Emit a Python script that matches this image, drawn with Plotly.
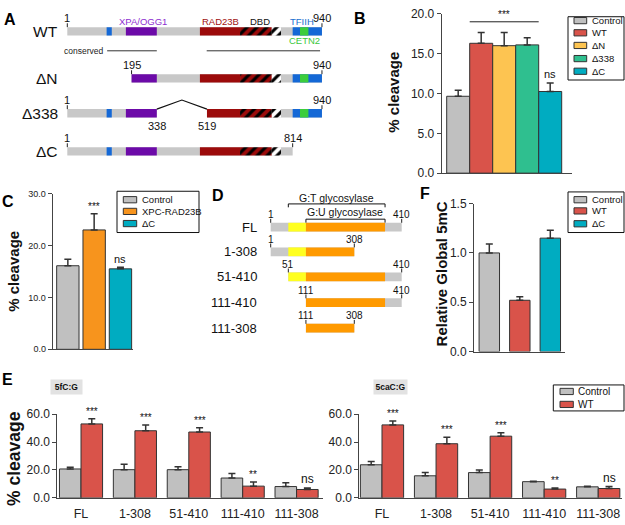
import plotly.graph_objects as go

W, H = 625, 525
FONT = "Arial, 'Liberation Sans', Helvetica, sans-serif"
INK = "#222222"
AXC = "#444444"
OUT = "#333333"

# ---------------- data ----------------
# Panel B
b_labels = ["Control", "WT", "ΔN", "Δ338", "ΔC"]
b_values = [9.65, 16.3, 16.0, 16.1, 10.25]
b_errors = [0.75, 1.35, 1.65, 0.9, 1.05]
b_sig_pair = ("WT", "Δ338")
b_sig_text = "***"
b_ns = "ΔC"

# Panel C
c_labels = ["Control", "XPC-RAD23B", "ΔC"]
c_values = [16.1, 23.0, 15.5]
c_errors = [1.25, 3.1, 0.3]
c_sig = ["", "***", "ns"]

# Panel F
f_labels = ["Control", "WT", "ΔC"]
f_values = [1.0, 0.52, 1.15]
f_errors = [0.09, 0.035, 0.08]

# Panel E
e_constructs = ["FL", "1-308", "51-410", "111-410", "111-308"]
e5fc_control = [20.7, 20.2, 20.2, 14.2, 8.1]
e5fc_control_err = [1.2, 3.8, 2.1, 3.2, 2.8]
e5fc_wt = [53.0, 48.1, 47.2, 8.4, 6.0]
e5fc_wt_err = [3.7, 4.2, 3.0, 3.0, 1.0]
e5cac_control = [23.7, 15.8, 18.1, 11.6, 7.9]
e5cac_control_err = [2.3, 2.3, 1.9, 0.3, 0.5]
e5cac_wt = [52.3, 38.8, 44.2, 6.3, 6.7]
e5cac_wt_err = [2.8, 4.7, 2.5, 0.7, 1.4]
e_sig = ["***", "***", "***", "**", "ns"]
e_titles = ["5fC:G", "5caC:G"]

# Panel A schematic (diagram units along XPC)
a_rows = ["WT", "ΔN", "Δ338", "ΔC"]
a_spans = [[(1, 940)], [(238, 940)], [(1, 331), (516, 940)], [(1, 832)]]
a_dom_start = [146, 217, 490, 638, 755, 832, 859]
a_dom_end = [165, 331, 638, 755, 789, 940, 890]
a_end_labels = [[(1, "1"), (940, "940")], [(238, "195"), (940, "940")],
                [(1, "1"), (940, "940")], [(1, "1"), (832, "814")]]
a_gap_labels = ["338", "519"]
a_conserved = [(148, 331), (515, 933)]
a_dom_text = ["XPA/OGG1", "RAD23B", "DBD", "TFIIH", "CETN2"]
a_dom_text_x = [281, 567, 710, 866, 874]

# Panel D schematic (diagram units along TDG)
d_rows = ["FL", "1-308", "51-410", "111-410", "111-308"]
d_spans = [(1, 410), (1, 262), (56, 410), (111, 410), (111, 262)]
d_dom_start = [56, 111]
d_dom_end = [111, 358]
d_end_labels = [("1", "410"), ("1", "308"), ("51", "410"), ("111", "410"), ("111", "308")]
d_brackets = [("G:T glycosylase", 56, 358), ("G:U glycosylase", 111, 358)]

# ---------------- styles / layout ----------------
GRAY = "#c0c0c0"
RED = "#d9534a"
B_COLORS = [GRAY, RED, "#fdc451", "#2fbf8f", "#00acc1"]
C_COLORS = [GRAY, "#f7941d", "#00acc1"]
F_COLORS = [GRAY, RED, "#00acc1"]

S_GRAY = "#c8c8c8"
S_BLUE = "#1468d6"
S_PURPLE = "#6c0aa8"
S_DRED = "#9c0b0b"
S_GREEN = "#3ccd3c"
A_DOM_STYLE = ["blue", "purple", "dred", "hatch_red", "hatch_white", "blue", "green"]
A_DOM_TEXT_COLOR = ["#8e2fd0", "#a01010", "#111111", "#1a6fd0", "#3cc83c"]
D_DOM_COLOR = ["#ffff20", "#ff9a00"]


def fx(px):
    return px / W


def fy(py):
    return 1 - py / H


def a_r(px):  # panel A diagram scale
    return 1 + (px - 67.3) / 0.2712


def d_r(px):  # panel D diagram scale
    return 1 + (px - 270.7) / 0.3203


fig = go.Figure()


def add_bars(xa, ya, labels, values, errors, colors, width, offset=None):
    fig.add_trace(go.Bar(
        x=labels, y=values, width=width, offset=offset,
        marker=dict(color=colors, line=dict(color=OUT, width=1)),
        error_y=dict(type="data", symmetric=False, array=errors,
                     arrayminus=[0] * len(errors), color=OUT, thickness=1.5, width=3.5),
        xaxis=xa, yaxis=ya, showlegend=False, hoverinfo="skip"))


add_bars("x", "y", b_labels, b_values, b_errors, B_COLORS, 1.0)
add_bars("x2", "y2", c_labels, c_values, c_errors, C_COLORS, 0.85)
add_bars("x3", "y3", f_labels, f_values, f_errors, F_COLORS, 0.67)
add_bars("x4", "y4", e_constructs, e5fc_control, e5fc_control_err, GRAY, 0.4, -0.4)
add_bars("x4", "y4", e_constructs, e5fc_wt, e5fc_wt_err, RED, 0.4, 0.0)
add_bars("x5", "y5", e_constructs, e5cac_control, e5cac_control_err, GRAY, 0.4, -0.4)
add_bars("x5", "y5", e_constructs, e5cac_wt, e5cac_wt_err, RED, 0.4, 0.0)


def hbar(xa, ya, ys, starts, ends, color, height, pattern=None):
    if not ys:
        return
    marker = dict(color=color, line=dict(width=0))
    if pattern:
        marker["pattern"] = pattern
    fig.add_trace(go.Bar(orientation="h", y=ys, base=starts,
                         x=[e - s for s, e in zip(starts, ends)], width=height,
                         marker=marker, xaxis=xa, yaxis=ya, showlegend=False,
                         hoverinfo="skip"))


# ---- Panel A schematic ----
A_ROW_Y = [25, 73.3, 109.2, 148.3]
A_BAR_H = 8.6
ys, st, en = [], [], []
for yv, spans in zip(A_ROW_Y, a_spans):
    for s, e in spans:
        ys.append(yv); st.append(s); en.append(e)
hbar("x6", "y6", ys, st, en, S_GRAY, A_BAR_H)

style_map = {
    "blue": (S_BLUE, None),
    "purple": (S_PURPLE, None),
    "dred": (S_DRED, None),
    "hatch_red": (S_DRED, dict(shape="/", fgcolor="#000000", bgcolor=S_DRED, size=7, solidity=0.45, fillmode="replace")),
    "hatch_white": ("#ffffff", dict(shape="/", fgcolor="#000000", bgcolor="#ffffff", size=7, solidity=0.45, fillmode="replace")),
    "green": (S_GREEN, None),
}
for ds, de, style in zip(a_dom_start, a_dom_end, A_DOM_STYLE):
    ys, st, en = [], [], []
    for yv, spans in zip(A_ROW_Y, a_spans):
        for s, e in spans:
            s2, e2 = max(s, ds), min(e, de)
            if e2 > s2:
                ys.append(yv); st.append(s2); en.append(e2)
    col, pat = style_map[style]
    hbar("x6", "y6", ys, st, en, col, A_BAR_H, pat)

annotations = []
shapes = []


def txt(x, y, text, size, color=INK, xref="paper", yref="paper", bold=False,
        xanchor="center", yanchor="middle", angle=0, **kw):
    if bold:
        text = "<b>" + text + "</b>"
    d = dict(x=x, y=y, xref=xref, yref=yref, text=text, showarrow=False,
             font=dict(size=size, color=color, family=FONT), xanchor=xanchor,
             yanchor=yanchor, textangle=angle)
    d.update(kw)
    annotations.append(d)


def line(x0, y0, x1, y1, xref, yref, color=INK, width=1):
    shapes.append(dict(type="line", x0=x0, y0=y0, x1=x1, y1=y1, xref=xref,
                       yref=yref, line=dict(color=color, width=width)))


for name, yv, labs in zip(a_rows, A_ROW_Y, a_end_labels):
    txt(a_r(60), yv, name, 15.5, "#111", "x6", "y6", xanchor="right")
    top = yv - A_BAR_H / 2
    for pos, lab in labs:
        line(pos, top - 4, pos, top, "x6", "y6", width=1)
        txt(pos, top - 9, lab, 11, "#111", "x6", "y6")

# gap in Δ338
gy = A_ROW_Y[2]
gtop = gy - A_BAR_H / 2
gs, ge = a_spans[2][0][1], a_spans[2][1][0]
fig.add_trace(go.Scatter(x=[gs, (gs + ge) / 2, ge], y=[gtop, gtop - 9.3, gtop],
                         mode="lines", line=dict(color="#111", width=1.2),
                         xaxis="x6", yaxis="y6", showlegend=False, hoverinfo="skip"))
txt(gs, gy + A_BAR_H / 2 + 8.5, a_gap_labels[0], 11, "#111", "x6", "y6")
txt(ge, gy + A_BAR_H / 2 + 8.5, a_gap_labels[1], 11, "#111", "x6", "y6")

# conserved lines
txt(a_r(83), 45, "conserved", 8.5, "#222", "x6", "y6")
for s, e in a_conserved:
    line(s, 45, e, 45, "x6", "y6", color="#333", width=1)

for t, xv, col in zip(a_dom_text, a_dom_text_x, A_DOM_TEXT_COLOR):
    yv = 34.5 if t == "CETN2" else 15
    txt(xv, yv, t, 9.5, col, "x6", "y6")

# ---- Panel D schematic ----
D_ROW_Y = [226.2, 251.5, 277.2, 303.8, 330]
D_BAR_H = 9
hbar("x7", "y7", D_ROW_Y, [s for s, e in d_spans], [e for s, e in d_spans], S_GRAY, D_BAR_H)
for ds, de, col in zip(d_dom_start, d_dom_end, D_DOM_COLOR):
    ys, st, en = [], [], []
    for yv, (s, e) in zip(D_ROW_Y, d_spans):
        s2, e2 = max(s, ds), min(e, de)
        if e2 > s2:
            ys.append(yv); st.append(s2); en.append(e2)
    hbar("x7", "y7", ys, st, en, col, D_BAR_H)

for name, yv, (s, e), (ls, le) in zip(d_rows, D_ROW_Y, d_spans, d_end_labels):
    txt(d_r(259), yv, name, 13, "#111", "x7", "y7", xanchor="right")
    top = yv - D_BAR_H / 2
    for pos, lab in ((s, ls), (e, le)):
        line(pos, top - 4, pos, top, "x7", "y7", width=1)
        txt(pos, top - 8.5, lab, 10, "#111", "x7", "y7")

for (lab, s, e), by, ty in zip(d_brackets, [202.3, 218.0], [196.5, 211.0]):
    fig.add_trace(go.Scatter(x=[s, s, e, e], y=[by + 3.5, by, by, by + 3.5], mode="lines",
                             line=dict(color="#111", width=1), xaxis="x7", yaxis="y7",
                             showlegend=False, hoverinfo="skip"))
    txt((s + e) / 2, ty, lab, 10.5, "#111", "x7", "y7")

# ---------------- axes ----------------


def xax(px0, px1, rng, anchor, **kw):
    d = dict(domain=[fx(px0), fx(px1)], range=rng, showgrid=False, zeroline=False,
             showline=True, linecolor=AXC, linewidth=1, ticks="", showticklabels=False,
             fixedrange=True, anchor=anchor)
    d.update(kw)
    return d


def yax(py0, py1, rng, dtick, size, anchor):
    return dict(domain=[fy(py0), fy(py1)], range=rng, dtick=dtick, tick0=0,
                tickformat=".1f", showgrid=False, zeroline=False, showline=True,
                linecolor=AXC, linewidth=1, ticks="outside", ticklen=4, tickwidth=1,
                tickcolor=AXC, tickfont=dict(size=size, color=INK, family=FONT),
                fixedrange=True, anchor=anchor)


e_xkw = dict(showticklabels=True, tickfont=dict(size=12.5, color=INK, family=FONT),
             type="category", ticklabelstandoff=4)
layout_axes = dict(
    xaxis=xax(441.7, 571.7, [-0.717, 4.935], "y"),
    yaxis=yax(170.7, 7, [0, 20], 5, 12, "x"),
    xaxis2=xax(52.7, 133, [-0.576, 2.477], "y2"),
    yaxis2=yax(351.7, 191.7, [0, 30], 10, 9, "x2"),
    xaxis3=xax(474, 565, [-0.502, 2.482], "y3"),
    yaxis3=yax(354, 202, [0, 1.5], 0.5, 12, "x3"),
    xaxis4=xax(57.3, 323, [-0.44, 4.49], "y4", **e_xkw),
    yaxis4=yax(504.3, 418.3, [0, 60], 20, 12, "x4"),
    xaxis5=xax(359.3, 622, [-0.42, 4.44], "y5", **e_xkw),
    yaxis5=yax(504.3, 418.3, [0, 60], 20, 12, "x5"),
    xaxis6=dict(domain=[0, fx(335)], range=[a_r(0), a_r(335)], visible=False, fixedrange=True, anchor="y6"),
    yaxis6=dict(domain=[fy(165), 1], range=[165, 0], visible=False, fixedrange=True, anchor="x6"),
    xaxis7=dict(domain=[fx(200), fx(415)], range=[d_r(200), d_r(415)], visible=False, fixedrange=True, anchor="y7"),
    yaxis7=dict(domain=[fy(340), fy(185)], range=[340, 185], visible=False, fixedrange=True, anchor="x7"),
)

# ---------------- significance ----------------
STAR = "#111111"
i0, i1 = b_labels.index(b_sig_pair[0]), b_labels.index(b_sig_pair[1])
line(i0 - 0.5, 19.0, i1 + 0.5, 19.0, "x", "y", color="#222", width=1)
txt((i0 + i1) / 2, 19.0, b_sig_text, 10, STAR, "x", "y", yanchor="bottom")
k = b_labels.index(b_ns)
txt(k, b_values[k] + b_errors[k], "ns", 11, STAR, "x", "y", yanchor="bottom", yshift=1)

for i, s in enumerate(c_sig):
    if s:
        txt(i, c_values[i] + c_errors[i], s, 10 if "*" in s else 11, STAR, "x2", "y2", yanchor="bottom")

for xa, ya, vals, errs in (("x4", "y4", e5fc_wt, e5fc_wt_err), ("x5", "y5", e5cac_wt, e5cac_wt_err)):
    for i, s in enumerate(e_sig):
        txt(i + 0.2, vals[i] + errs[i], s, 10 if "*" in s else 12, STAR, xa, ya, yanchor="bottom")

# E sub-titles
txt(fx(66.2), fy(390), e_titles[0], 8.5, "#111", bold=True, bgcolor="#e2e2e2", width=29, height=12, borderpad=1)
txt(fx(390.5), fy(390), e_titles[1], 8.5, "#111", bold=True, bgcolor="#e2e2e2", width=31, height=12, borderpad=1)

# axis titles
txt(fx(394), fy(88), "% cleavage", 15, "#111", bold=True, angle=-90)
txt(fx(14), fy(272), "% cleavage", 15, "#111", bold=True, angle=-90)
txt(fx(441.7), fy(274), "Relative Global 5mC", 15, "#111", bold=True, angle=-90)
txt(fx(13.3), fy(464), "% cleavage", 17.5, "#111", bold=True, angle=-90)

# panel letters
for letter, px, py in (("A", 10, 13), ("B", 360, 12), ("C", 8, 200), ("D", 218, 194),
                       ("F", 425, 192), ("E", 7, 383)):
    txt(fx(px), fy(py), letter, 16, "#000", bold=True)


# ---------------- manual legends ----------------
def legend(box, labels, colors, ys, sw_x0, sw_w, text_x, size):
    x0, y0, x1, y1 = box
    shapes.append(dict(type="rect", xref="paper", yref="paper", x0=fx(x0), x1=fx(x1),
                       y0=fy(y1), y1=fy(y0), line=dict(color="#111", width=1), fillcolor="white"))
    for lab, col, yv in zip(labels, colors, ys):
        shapes.append(dict(type="rect", xref="paper", yref="paper", x0=fx(sw_x0),
                           x1=fx(sw_x0 + sw_w), y0=fy(yv + 3.2), y1=fy(yv - 3.2),
                           line=dict(color=OUT, width=1), fillcolor=col))
        txt(fx(text_x), fy(yv), lab, size, "#111", xanchor="left")


legend((568, 10, 624, 75), b_labels, B_COLORS, [14, 26.5, 39.5, 53, 66], 574, 12.7, 589.5, 9.5)
legend((117, 189.3, 199, 231.7), c_labels, C_COLORS, [198, 210, 222.5], 123.3, 13.4, 139.5, 9.5)
legend((568, 190, 624, 231.7), f_labels, F_COLORS, [198, 209.5, 222.7], 574, 12.7, 589.5, 9.5)
legend((553.3, 388.3, 624, 415), ["Control", "WT"], [GRAY, RED], [395, 408.3], 560, 13.3, 576, 10)

fig.update_layout(
    width=W, height=H, margin=dict(l=0, r=0, t=0, b=0),
    paper_bgcolor="white", plot_bgcolor="rgba(0,0,0,0)",
    barmode="overlay", showlegend=False,
    annotations=annotations, shapes=shapes,
    font=dict(family=FONT, color=INK),
    **layout_axes,
)

fig.write_html("out.html", config={"displayModeBar": False},
               post_script="document.body.style.margin='0px';document.body.style.overflow='hidden';")
